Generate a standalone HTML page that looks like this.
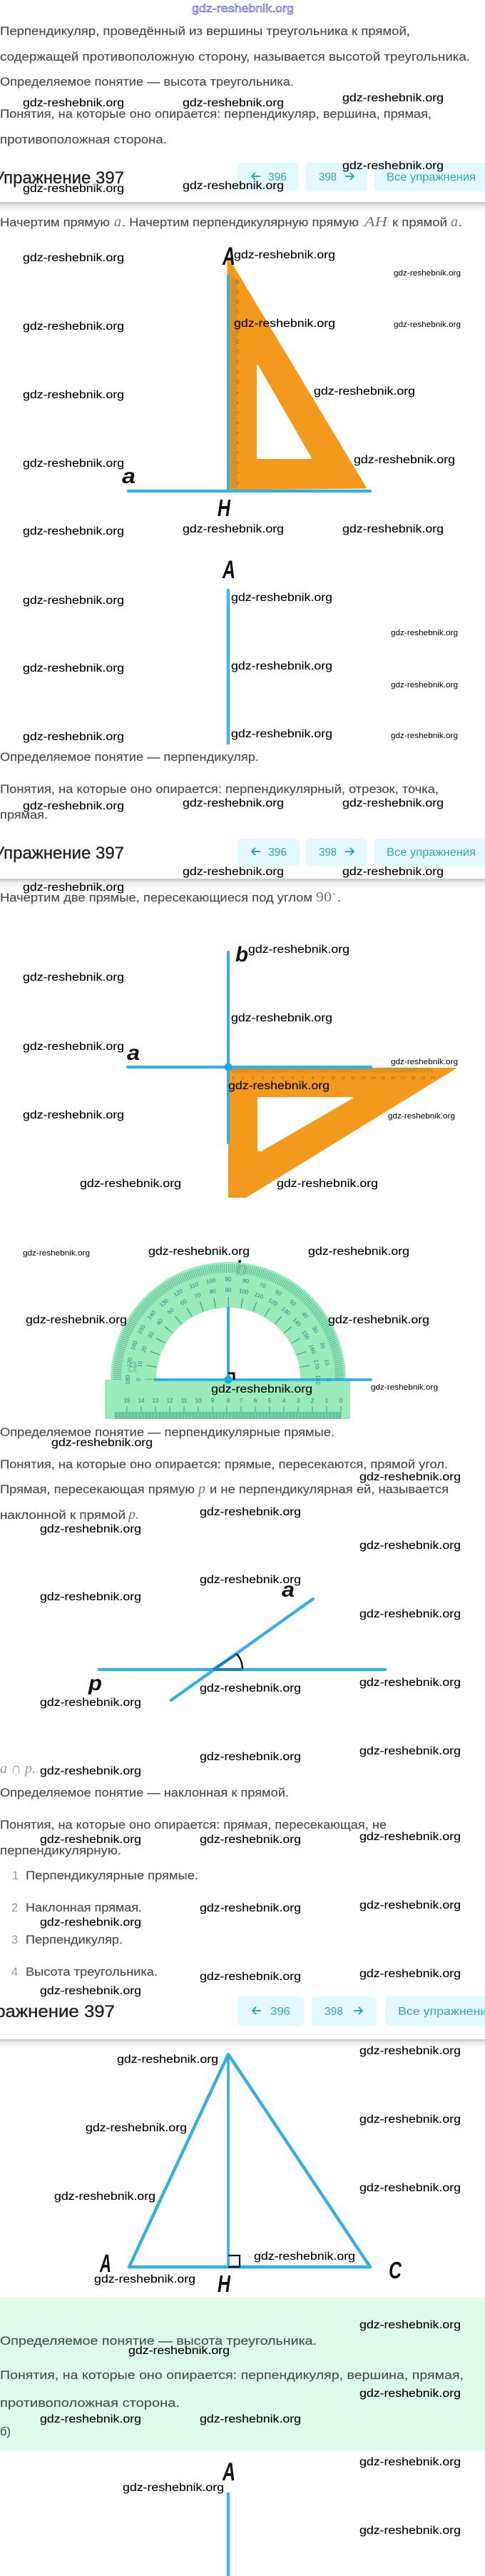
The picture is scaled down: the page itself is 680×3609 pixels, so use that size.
<!DOCTYPE html>
<html lang="ru"><head><meta charset="utf-8"><title>Упражнение 397</title>
<style>
html,body{margin:0;padding:0;background:#fff}
body{width:680px;height:3609px;overflow:hidden}
svg{display:block}
text{font-family:"Liberation Sans","DejaVu Sans",sans-serif}
.t{font-size:16.5px;fill:#4c4c4c;stroke:#4c4c4c;stroke-width:.15px}
.w{font-size:15.5px;fill:#000;stroke:#000;stroke-width:.1px}
.s{font-size:11px;fill:#000}
.h{font-size:24px;fill:#222;stroke:#222;stroke-width:.35px}
.b{font-size:16px;fill:#3c9fc0}
.m{font-family:"Liberation Serif",serif;font-style:italic;font-size:20px;fill:#777}
.l{font-style:italic;font-weight:bold;fill:#111}
.o{font-size:5.5px;fill:#8a6420}
.p{font-size:8px;fill:#2a7f88;text-anchor:middle}
.u{font-size:8px;fill:#2f7f80;text-anchor:middle}
.g{fill:#45544c;stroke:#45544c}
</style></head><body>
<svg width="680" height="3609" viewBox="0 0 680 3609" xmlns="http://www.w3.org/2000/svg">
<defs><linearGradient id="sh" x1="0" y1="0" x2="0" y2="1"><stop offset="0" stop-color="#c4c4c4"/><stop offset=".4" stop-color="#ececec"/><stop offset="1" stop-color="#fff"/></linearGradient></defs>

<!-- green block -->
<rect x="0" y="3219" width="680" height="214" fill="#dcfbea"/>

<!-- shadows -->
<rect x="0" y="283" width="680" height="14" fill="url(#sh)"/>
<rect x="0" y="1231" width="680" height="14" fill="url(#sh)"/>
<rect x="0" y="2857" width="680" height="12" fill="url(#sh)"/>

<!-- figure 1 -->
<polygon points="320,363 320,685 512,683" fill="#f39a1e" stroke="#f39a1e" stroke-width="3" stroke-linejoin="round"/>
<polygon points="361,512 361,642 436,642" fill="#fff" stroke="#fff" stroke-width="2" stroke-linejoin="round"/>
<line x1="328" y1="390" x2="328" y2="684" stroke="#8f7430" stroke-width="9" stroke-dasharray=".7 1.3" opacity=".65"/>
<g class="o">
<text class="o" transform="translate(335,678) rotate(-90)">0</text><text class="o" transform="translate(335,664) rotate(-90)">1</text><text class="o" transform="translate(335,650) rotate(-90)">2</text><text class="o" transform="translate(335,636) rotate(-90)">3</text><text class="o" transform="translate(335,622) rotate(-90)">4</text><text class="o" transform="translate(335,608) rotate(-90)">5</text><text class="o" transform="translate(335,594) rotate(-90)">6</text><text class="o" transform="translate(335,580) rotate(-90)">7</text><text class="o" transform="translate(335,566) rotate(-90)">8</text><text class="o" transform="translate(335,552) rotate(-90)">9</text><text class="o" transform="translate(335,538) rotate(-90)">10</text><text class="o" transform="translate(335,524) rotate(-90)">11</text><text class="o" transform="translate(335,510) rotate(-90)">12</text><text class="o" transform="translate(335,496) rotate(-90)">13</text><text class="o" transform="translate(335,482) rotate(-90)">14</text><text class="o" transform="translate(335,468) rotate(-90)">15</text><text class="o" transform="translate(335,454) rotate(-90)">16</text><text class="o" transform="translate(335,440) rotate(-90)">17</text><text class="o" transform="translate(335,426) rotate(-90)">18</text><text class="o" transform="translate(335,412) rotate(-90)">19</text><text class="o" transform="translate(335,398) rotate(-90)">20</text>
</g>
<line x1="320" y1="387" x2="320" y2="686" stroke="#35aee6" stroke-width="4" stroke-linecap="round"/>
<line x1="180" y1="688" x2="519" y2="688" stroke="#35aee6" stroke-width="4.2" stroke-linecap="round"/>
<text class="l" x="312" y="371" font-size="35" textLength="18" lengthAdjust="spacingAndGlyphs">A</text>
<text class="l" x="171" y="677" font-size="30" textLength="19" lengthAdjust="spacingAndGlyphs">a</text>
<text class="l" x="305" y="723" font-size="33" textLength="18" lengthAdjust="spacingAndGlyphs">H</text>

<!-- figure 2 -->
<text class="l" x="312" y="810" font-size="35" textLength="18" lengthAdjust="spacingAndGlyphs">A</text>
<line x1="320" y1="827" x2="320" y2="1041" stroke="#45b3e8" stroke-width="4.6" stroke-linecap="round"/>

<!-- figure 3 -->
<polygon points="320,1496 641,1496 345,1678 320,1678" fill="#f39a1e"/>
<polygon points="362,1538 494,1538 366,1612 362,1612" fill="#fff" stroke="#fff" stroke-width="2" stroke-linejoin="round"/>
<line x1="325" y1="1499" x2="607" y2="1499" stroke="#8f7430" stroke-width="7" stroke-dasharray=".7 1.3" opacity=".7"/>
<g>
<text class="o" x="325" y="1512">0</text><text class="o" x="339" y="1512">1</text><text class="o" x="353" y="1512">2</text><text class="o" x="367" y="1512">3</text><text class="o" x="381" y="1512">4</text><text class="o" x="395" y="1512">5</text><text class="o" x="409" y="1512">6</text><text class="o" x="423" y="1512">7</text><text class="o" x="437" y="1512">8</text><text class="o" x="451" y="1512">9</text><text class="o" x="464" y="1512">10</text><text class="o" x="478" y="1512">11</text><text class="o" x="492" y="1512">12</text><text class="o" x="506" y="1512">13</text><text class="o" x="520" y="1512">14</text><text class="o" x="534" y="1512">15</text><text class="o" x="548" y="1512">16</text><text class="o" x="562" y="1512">17</text><text class="o" x="576" y="1512">18</text><text class="o" x="590" y="1512">19</text><text class="o" x="604" y="1512">20</text>
</g>
<line x1="320" y1="1334" x2="320" y2="1601" stroke="#35aee6" stroke-width="4" stroke-linecap="round"/>
<line x1="179" y1="1495" x2="520" y2="1495" stroke="#35aee6" stroke-width="4.2" stroke-linecap="round"/>
<circle cx="320" cy="1495" r="5.5" fill="#1ca6e8"/>
<text class="l" x="330" y="1347" font-size="30" textLength="18" lengthAdjust="spacingAndGlyphs">b</text>
<text class="l" x="178" y="1485" font-size="30" textLength="18" lengthAdjust="spacingAndGlyphs">a</text>

<!-- figure 4 protractor -->
<text class="l" x="330" y="1787" font-size="30" textLength="17" lengthAdjust="spacingAndGlyphs">b</text>
<text class="l" x="179" y="1923" font-size="30" textLength="14" lengthAdjust="spacingAndGlyphs">a</text>
<g opacity=".9">
<path d="M155,1933 A165,165 0 0 1 485,1933 L421,1933 A101,101 0 0 0 219,1933 Z" fill="#8fe9b5"/>
<rect x="147" y="1933" width="344" height="55" rx="2" fill="#8fe9b5"/>
</g>
<line x1="217" y1="1933" x2="520" y2="1933" stroke="#35aee6" stroke-width="3.8" stroke-linecap="round"/>
<line x1="320" y1="1831" x2="320" y2="1933" stroke="#35aee6" stroke-width="4"/>
<path d="M320,1924 H328 V1933" fill="none" stroke="#000" stroke-width="3"/>
<circle cx="320" cy="1933" r="5.5" fill="#1ca6e8"/>
<path d="M164,1933 A156,156 0 0 1 476,1933" fill="none" stroke="#2f8f83" stroke-width="12" stroke-dasharray=".8 1.92" opacity=".75"/>
<path d="M211,1933 A109,109 0 0 1 429,1933" fill="none" stroke="#2f8f83" stroke-width="14" stroke-dasharray="1 18.02" stroke-dashoffset=".5"/>
<path d="M161,1983 H479" fill="none" stroke="#2f8f83" stroke-width="10" stroke-dasharray=".8 1.2"/>
<path d="M178,1978 V1970 M198,1978 V1970 M218,1978 V1970 M238,1978 V1970 M258,1978 V1970 M278,1978 V1970 M298,1978 V1970 M318,1978 V1970 M338,1978 V1970 M358,1978 V1970 M378,1978 V1970 M398,1978 V1970 M418,1978 V1970 M438,1978 V1970 M458,1978 V1970 M478,1978 V1970" stroke="#2f8f83" stroke-width=".8" fill="none"/>
<g transform="translate(320,1933)">
<text class="p" transform="rotate(90) translate(0,-138)">0</text><text class="p" transform="rotate(80) translate(0,-138)">10</text><text class="p" transform="rotate(70) translate(0,-138)">20</text><text class="p" transform="rotate(60) translate(0,-138)">30</text><text class="p" transform="rotate(50) translate(0,-138)">40</text><text class="p" transform="rotate(40) translate(0,-138)">50</text><text class="p" transform="rotate(30) translate(0,-138)">60</text><text class="p" transform="rotate(20) translate(0,-138)">70</text><text class="p" transform="rotate(10) translate(0,-138)">80</text><text class="p" transform="translate(0,-138)">90</text><text class="p" transform="rotate(-10) translate(0,-138)">100</text><text class="p" transform="rotate(-20) translate(0,-138)">110</text><text class="p" transform="rotate(-30) translate(0,-138)">120</text><text class="p" transform="rotate(-40) translate(0,-138)">130</text><text class="p" transform="rotate(-50) translate(0,-138)">140</text><text class="p" transform="rotate(-60) translate(0,-138)">150</text><text class="p" transform="rotate(-70) translate(0,-138)">160</text><text class="p" transform="rotate(-80) translate(0,-138)">170</text><text class="p" transform="rotate(-90) translate(0,-138)">180</text>
<text class="p" transform="rotate(-90) translate(0,-123)">0</text><text class="p" transform="rotate(-80) translate(0,-123)">10</text><text class="p" transform="rotate(-70) translate(0,-123)">20</text><text class="p" transform="rotate(-60) translate(0,-123)">30</text><text class="p" transform="rotate(-50) translate(0,-123)">40</text><text class="p" transform="rotate(-40) translate(0,-123)">50</text><text class="p" transform="rotate(-30) translate(0,-123)">60</text><text class="p" transform="rotate(-20) translate(0,-123)">70</text><text class="p" transform="rotate(-10) translate(0,-123)">80</text><text class="p" transform="translate(0,-123)">90</text><text class="p" transform="rotate(10) translate(0,-123)">100</text><text class="p" transform="rotate(20) translate(0,-123)">110</text><text class="p" transform="rotate(30) translate(0,-123)">120</text><text class="p" transform="rotate(40) translate(0,-123)">130</text><text class="p" transform="rotate(50) translate(0,-123)">140</text><text class="p" transform="rotate(60) translate(0,-123)">150</text><text class="p" transform="rotate(70) translate(0,-123)">160</text><text class="p" transform="rotate(80) translate(0,-123)">170</text><text class="p" transform="rotate(90) translate(0,-123)">180</text>
</g>
<text class="u" x="178" y="1965">15</text><text class="u" x="198" y="1965">14</text><text class="u" x="218" y="1965">13</text><text class="u" x="238" y="1965">12</text><text class="u" x="258" y="1965">11</text><text class="u" x="278" y="1965">10</text><text class="u" x="298" y="1965">9</text><text class="u" x="320" y="1965">8</text><text class="u" x="338" y="1965">7</text><text class="u" x="358" y="1965">6</text><text class="u" x="378" y="1965">5</text><text class="u" x="398" y="1965">4</text><text class="u" x="418" y="1965">3</text><text class="u" x="438" y="1965">2</text><text class="u" x="458" y="1965">1</text><text class="u" x="478" y="1965">0</text>

<!-- figure 5 -->
<line x1="139" y1="2339" x2="540" y2="2339" stroke="#35aee6" stroke-width="4.2" stroke-linecap="round"/>
<line x1="240" y1="2382" x2="439" y2="2240" stroke="#35aee6" stroke-width="4.2" stroke-linecap="round"/>
<path d="M299,2339 H340 M299,2339 L332,2317" stroke="#1383b8" stroke-width="4" fill="none"/>
<path d="M332,2317 Q340,2327 340,2338" stroke="#111" stroke-width="2.5" fill="none"/>
<text class="l" x="395" y="2237" font-size="30" textLength="18" lengthAdjust="spacingAndGlyphs">a</text>
<text class="l" x="124" y="2368" font-size="30" textLength="19" lengthAdjust="spacingAndGlyphs">p</text>

<!-- figure 6 -->
<polygon points="320,2878 181,3176 519,3176" fill="none" stroke="#35aee6" stroke-width="4.4" stroke-linejoin="round"/>
<line x1="320" y1="2877" x2="320" y2="3176" stroke="#35aee6" stroke-width="3.6"/>
<path d="M320,3160 H336 V3176 H320" fill="none" stroke="#111" stroke-width="2.2"/>
<text class="l" x="140" y="3183" font-size="35" textLength="16" lengthAdjust="spacingAndGlyphs">A</text>
<text class="l" x="305" y="3211" font-size="33" textLength="18" lengthAdjust="spacingAndGlyphs">H</text>
<text class="l" x="545" y="3192" font-size="33" textLength="18" lengthAdjust="spacingAndGlyphs">C</text>

<!-- figure 7 -->
<text class="l" x="312" y="3475" font-size="35" textLength="18" lengthAdjust="spacingAndGlyphs">A</text>
<line x1="320" y1="3492" x2="320" y2="3609" stroke="#45b3e8" stroke-width="4.4"/>

<!-- buttons -->
<rect x="333" y="228" width="85" height="40" rx="5" fill="#e4f9fd"/><rect x="428" y="228" width="87" height="40" rx="5" fill="#e4f9fd"/><rect x="525" y="228" width="165" height="40" rx="5" fill="#e4f9fd"/>
<path d="M365,247 H353 M358,242 L353,247 L358,252" fill="none" stroke="#3c9fc0" stroke-width="2"/><text class="b" x="376" y="253" textLength="26" lengthAdjust="spacingAndGlyphs">396</text>
<text class="b" x="447" y="253" textLength="25" lengthAdjust="spacingAndGlyphs">398</text><path d="M484,247 H496 M491,242 L496,247 L491,252" fill="none" stroke="#3c9fc0" stroke-width="2"/>
<text class="b" x="542" y="253" textLength="125" lengthAdjust="spacingAndGlyphs">Все упражнения</text>

<rect x="333" y="1175" width="87" height="38" rx="5" fill="#e4f9fd"/><rect x="429" y="1175" width="86" height="38" rx="5" fill="#e4f9fd"/><rect x="525" y="1175" width="165" height="38" rx="5" fill="#e4f9fd"/>
<path d="M365,1193 H353 M358,1188 L353,1193 L358,1198" fill="none" stroke="#3c9fc0" stroke-width="2"/><text class="b" x="376" y="1199" textLength="26" lengthAdjust="spacingAndGlyphs">396</text>
<text class="b" x="447" y="1199" textLength="25" lengthAdjust="spacingAndGlyphs">398</text><path d="M484,1193 H496 M491,1188 L496,1193 L491,1198" fill="none" stroke="#3c9fc0" stroke-width="2"/>
<text class="b" x="542" y="1199" textLength="125" lengthAdjust="spacingAndGlyphs">Все упражнения</text>

<rect x="333" y="2797" width="93" height="41" rx="5" fill="#e4f9fd"/><rect x="437" y="2797" width="91" height="41" rx="5" fill="#e4f9fd"/><rect x="540" y="2797" width="150" height="41" rx="5" fill="#e4f9fd"/>
<path d="M366,2817 H354 M359,2812 L354,2817 L359,2822" fill="none" stroke="#3c9fc0" stroke-width="2"/><text class="b" x="379" y="2823" font-size="17" textLength="28" lengthAdjust="spacingAndGlyphs">396</text>
<text class="b" x="455" y="2823" textLength="26" lengthAdjust="spacingAndGlyphs">398</text><path d="M496,2817 H508 M503,2812 L508,2817 L503,2822" fill="none" stroke="#3c9fc0" stroke-width="2"/>
<text class="b" x="558" y="2823" textLength="135" lengthAdjust="spacingAndGlyphs">Все упражнения</text>

<!-- headers -->
<text class="h" x="-9" y="257" textLength="183" lengthAdjust="spacingAndGlyphs">Упражнение 397</text>
<text class="h" x="-9" y="1203" textLength="183" lengthAdjust="spacingAndGlyphs">Упражнение 397</text>
<text class="h" x="-36" y="2826" font-size="25.5" textLength="197" lengthAdjust="spacingAndGlyphs">Упражнение 397</text>

<!-- body text -->
<text class="t" x="0" y="49" textLength="575" lengthAdjust="spacingAndGlyphs">Перпендикуляр, проведённый из вершины треугольника к прямой,</text>
<text class="t" x="0" y="85" textLength="659" lengthAdjust="spacingAndGlyphs">содержащей противоположную сторону, называется высотой треугольника.</text>
<text class="t" x="0" y="120" textLength="412" lengthAdjust="spacingAndGlyphs">Определяемое понятие — высота треугольника.</text>
<text class="t" x="0" y="165" textLength="605" lengthAdjust="spacingAndGlyphs">Понятия, на которые оно опирается: перпендикуляр, вершина, прямая,</text>
<text class="t" x="0" y="201" textLength="234" lengthAdjust="spacingAndGlyphs">противоположная сторона.</text>

<text class="t" x="0" y="317" textLength="154" lengthAdjust="spacingAndGlyphs">Начертим прямую</text><text class="m" x="160" y="317">a</text><text class="t" x="171" y="317" textLength="332" lengthAdjust="spacingAndGlyphs">. Начертим перпендикулярную прямую</text><text class="m" x="511" y="317" textLength="32" lengthAdjust="spacingAndGlyphs">AH</text><text class="t" x="550" y="317" textLength="77" lengthAdjust="spacingAndGlyphs">к прямой</text><text class="m" x="632" y="317">a</text><text class="t" x="643" y="317">.</text>

<text class="t" x="0" y="1066" textLength="363" lengthAdjust="spacingAndGlyphs">Определяемое понятие — перпендикуляр.</text>
<text class="t" x="0" y="1111" textLength="615" lengthAdjust="spacingAndGlyphs">Понятия, на которые оно опирается: перпендикулярный, отрезок, точка,</text>
<text class="t" x="0" y="1147" textLength="67" lengthAdjust="spacingAndGlyphs">прямая.</text>

<text class="t" x="0" y="1263" textLength="438" lengthAdjust="spacingAndGlyphs">Начертим две прямые, пересекающиеся под углом</text><text class="m" style="font-style:normal" x="443" y="1263" textLength="22" lengthAdjust="spacingAndGlyphs">90</text><text class="m" style="font-style:normal;font-size:11px" x="466" y="1258">°</text><text class="t" x="473" y="1263">.</text>

<text class="t" x="0" y="2012" textLength="469" lengthAdjust="spacingAndGlyphs">Определяемое понятие — перпендикулярные прямые.</text>
<text class="t" x="0" y="2057" textLength="628" lengthAdjust="spacingAndGlyphs">Понятия, на которые оно опирается: прямые, пересекаются, прямой угол.</text>
<text class="t" x="0" y="2092" textLength="273" lengthAdjust="spacingAndGlyphs">Прямая, пересекающая прямую</text><text class="m" x="278" y="2092">p</text><text class="t" x="294" y="2092" textLength="335" lengthAdjust="spacingAndGlyphs">и не перпендикулярная ей, называется</text>
<text class="t" x="0" y="2128" textLength="176" lengthAdjust="spacingAndGlyphs">наклонной к прямой</text><text class="m" x="180" y="2128">p.</text>
<text class="m" x="0" y="2484" textLength="50" lengthAdjust="spacingAndGlyphs" style="fill:#999">a ∩ p.</text>
<text class="t" x="0" y="2517" textLength="405" lengthAdjust="spacingAndGlyphs">Определяемое понятие — наклонная к прямой.</text>
<text class="t" x="0" y="2562" textLength="542" lengthAdjust="spacingAndGlyphs">Понятия, на которые оно опирается: прямая, пересекающая, не</text>
<text class="t" x="0" y="2598" textLength="170" lengthAdjust="spacingAndGlyphs">перпендикулярную.</text>

<text class="t" style="fill:#999;stroke:none" x="17" y="2633">1</text><text class="t" x="36" y="2633" textLength="242" lengthAdjust="spacingAndGlyphs">Перпендикулярные прямые.</text>
<text class="t" style="fill:#999;stroke:none" x="16" y="2678">2</text><text class="t" x="36" y="2678" textLength="163" lengthAdjust="spacingAndGlyphs">Наклонная прямая.</text>
<text class="t" style="fill:#999;stroke:none" x="16" y="2723">3</text><text class="t" x="36" y="2723" textLength="136" lengthAdjust="spacingAndGlyphs">Перпендикуляр.</text>
<text class="t" style="fill:#999;stroke:none" x="16" y="2768">4</text><text class="t" x="36" y="2768" textLength="185" lengthAdjust="spacingAndGlyphs">Высота треугольника.</text>

<text class="t g" x="0" y="3285" textLength="444" lengthAdjust="spacingAndGlyphs">Определяемое понятие — высота треугольника.</text>
<text class="t g" x="0" y="3333" textLength="650" lengthAdjust="spacingAndGlyphs">Понятия, на которые оно опирается: перпендикуляр, вершина, прямая,</text>
<text class="t g" x="0" y="3372" textLength="252" lengthAdjust="spacingAndGlyphs">противоположная сторона.</text>
<text class="t g" x="0" y="3412" textLength="15" lengthAdjust="spacingAndGlyphs">б)</text>

<!-- top outlined watermark -->
<text x="269" y="17" font-size="16" fill="#fff" stroke="#2828d0" stroke-width=".55" textLength="143" lengthAdjust="spacingAndGlyphs">gdz-reshebnik.org</text>

<!-- watermarks -->
<g>
<text class="w" x="32" y="149" textLength="142" lengthAdjust="spacingAndGlyphs">gdz-reshebnik.org</text>
<text class="w" x="256" y="149" textLength="142" lengthAdjust="spacingAndGlyphs">gdz-reshebnik.org</text>
<text class="w" x="480" y="142" textLength="142" lengthAdjust="spacingAndGlyphs">gdz-reshebnik.org</text>
<text class="w" x="480" y="237" textLength="142" lengthAdjust="spacingAndGlyphs">gdz-reshebnik.org</text>
<text class="w" x="32" y="269" textLength="142" lengthAdjust="spacingAndGlyphs">gdz-reshebnik.org</text>
<text class="w" x="256" y="265" textLength="142" lengthAdjust="spacingAndGlyphs">gdz-reshebnik.org</text>
<text class="w" x="32" y="366" textLength="142" lengthAdjust="spacingAndGlyphs">gdz-reshebnik.org</text>
<text class="w" x="328" y="362" textLength="142" lengthAdjust="spacingAndGlyphs">gdz-reshebnik.org</text>
<text class="s" x="552" y="386" textLength="94" lengthAdjust="spacingAndGlyphs">gdz-reshebnik.org</text>
<text class="w" x="32" y="462" textLength="142" lengthAdjust="spacingAndGlyphs">gdz-reshebnik.org</text>
<text class="w" x="328" y="458" textLength="142" lengthAdjust="spacingAndGlyphs">gdz-reshebnik.org</text>
<text class="s" x="552" y="458" textLength="94" lengthAdjust="spacingAndGlyphs">gdz-reshebnik.org</text>
<text class="w" x="440" y="553" textLength="142" lengthAdjust="spacingAndGlyphs">gdz-reshebnik.org</text>
<text class="w" x="32" y="558" textLength="142" lengthAdjust="spacingAndGlyphs">gdz-reshebnik.org</text>
<text class="w" x="496" y="649" textLength="142" lengthAdjust="spacingAndGlyphs">gdz-reshebnik.org</text>
<text class="w" x="32" y="654" textLength="142" lengthAdjust="spacingAndGlyphs">gdz-reshebnik.org</text>
<text class="w" x="32" y="749" textLength="142" lengthAdjust="spacingAndGlyphs">gdz-reshebnik.org</text>
<text class="w" x="256" y="746" textLength="142" lengthAdjust="spacingAndGlyphs">gdz-reshebnik.org</text>
<text class="w" x="480" y="746" textLength="142" lengthAdjust="spacingAndGlyphs">gdz-reshebnik.org</text>
<text class="w" x="32" y="846" textLength="142" lengthAdjust="spacingAndGlyphs">gdz-reshebnik.org</text>
<text class="w" x="324" y="842" textLength="142" lengthAdjust="spacingAndGlyphs">gdz-reshebnik.org</text>
<text class="s" x="548" y="890" textLength="94" lengthAdjust="spacingAndGlyphs">gdz-reshebnik.org</text>
<text class="w" x="32" y="941" textLength="142" lengthAdjust="spacingAndGlyphs">gdz-reshebnik.org</text>
<text class="w" x="324" y="938" textLength="142" lengthAdjust="spacingAndGlyphs">gdz-reshebnik.org</text>
<text class="s" x="548" y="963" textLength="94" lengthAdjust="spacingAndGlyphs">gdz-reshebnik.org</text>
<text class="w" x="32" y="1037" textLength="142" lengthAdjust="spacingAndGlyphs">gdz-reshebnik.org</text>
<text class="w" x="324" y="1033" textLength="142" lengthAdjust="spacingAndGlyphs">gdz-reshebnik.org</text>
<text class="s" x="548" y="1034" textLength="94" lengthAdjust="spacingAndGlyphs">gdz-reshebnik.org</text>
<text class="w" x="32" y="1134" textLength="142" lengthAdjust="spacingAndGlyphs">gdz-reshebnik.org</text>
<text class="w" x="256" y="1130" textLength="142" lengthAdjust="spacingAndGlyphs">gdz-reshebnik.org</text>
<text class="w" x="480" y="1130" textLength="142" lengthAdjust="spacingAndGlyphs">gdz-reshebnik.org</text>
<text class="w" x="256" y="1226" textLength="142" lengthAdjust="spacingAndGlyphs">gdz-reshebnik.org</text>
<text class="w" x="480" y="1226" textLength="142" lengthAdjust="spacingAndGlyphs">gdz-reshebnik.org</text>
<text class="w" x="32" y="1248" textLength="142" lengthAdjust="spacingAndGlyphs">gdz-reshebnik.org</text>
<text class="w" x="348" y="1335" textLength="142" lengthAdjust="spacingAndGlyphs">gdz-reshebnik.org</text>
<text class="w" x="32" y="1374" textLength="142" lengthAdjust="spacingAndGlyphs">gdz-reshebnik.org</text>
<text class="w" x="324" y="1431" textLength="142" lengthAdjust="spacingAndGlyphs">gdz-reshebnik.org</text>
<text class="w" x="32" y="1471" textLength="142" lengthAdjust="spacingAndGlyphs">gdz-reshebnik.org</text>
<text class="s" x="548" y="1491" textLength="94" lengthAdjust="spacingAndGlyphs">gdz-reshebnik.org</text>
<text class="w" x="320" y="1526" textLength="142" lengthAdjust="spacingAndGlyphs">gdz-reshebnik.org</text>
<text class="s" x="544" y="1567" textLength="94" lengthAdjust="spacingAndGlyphs">gdz-reshebnik.org</text>
<text class="w" x="32" y="1567" textLength="142" lengthAdjust="spacingAndGlyphs">gdz-reshebnik.org</text>
<text class="w" x="112" y="1663" textLength="142" lengthAdjust="spacingAndGlyphs">gdz-reshebnik.org</text>
<text class="w" x="388" y="1663" textLength="142" lengthAdjust="spacingAndGlyphs">gdz-reshebnik.org</text>
<text class="s" x="32" y="1759" textLength="94" lengthAdjust="spacingAndGlyphs">gdz-reshebnik.org</text>
<text class="w" x="208" y="1758" textLength="142" lengthAdjust="spacingAndGlyphs">gdz-reshebnik.org</text>
<text class="w" x="432" y="1758" textLength="142" lengthAdjust="spacingAndGlyphs">gdz-reshebnik.org</text>
<text class="w" x="36" y="1854" textLength="142" lengthAdjust="spacingAndGlyphs">gdz-reshebnik.org</text>
<text class="w" x="460" y="1854" textLength="142" lengthAdjust="spacingAndGlyphs">gdz-reshebnik.org</text>
<text class="w" x="296" y="1951" textLength="142" lengthAdjust="spacingAndGlyphs">gdz-reshebnik.org</text>
<text class="s" x="520" y="1947" textLength="94" lengthAdjust="spacingAndGlyphs">gdz-reshebnik.org</text>
<text class="w" x="72" y="2026" textLength="142" lengthAdjust="spacingAndGlyphs">gdz-reshebnik.org</text>
<text class="w" x="504" y="2074" textLength="142" lengthAdjust="spacingAndGlyphs">gdz-reshebnik.org</text>
<text class="w" x="280" y="2123" textLength="142" lengthAdjust="spacingAndGlyphs">gdz-reshebnik.org</text>
<text class="w" x="56" y="2147" textLength="142" lengthAdjust="spacingAndGlyphs">gdz-reshebnik.org</text>
<text class="w" x="504" y="2170" textLength="142" lengthAdjust="spacingAndGlyphs">gdz-reshebnik.org</text>
<text class="w" x="280" y="2218" textLength="142" lengthAdjust="spacingAndGlyphs">gdz-reshebnik.org</text>
<text class="w" x="56" y="2242" textLength="142" lengthAdjust="spacingAndGlyphs">gdz-reshebnik.org</text>
<text class="w" x="504" y="2266" textLength="142" lengthAdjust="spacingAndGlyphs">gdz-reshebnik.org</text>
<text class="w" x="280" y="2370" textLength="142" lengthAdjust="spacingAndGlyphs">gdz-reshebnik.org</text>
<text class="w" x="504" y="2362" textLength="142" lengthAdjust="spacingAndGlyphs">gdz-reshebnik.org</text>
<text class="w" x="56" y="2390" textLength="142" lengthAdjust="spacingAndGlyphs">gdz-reshebnik.org</text>
<text class="w" x="504" y="2458" textLength="142" lengthAdjust="spacingAndGlyphs">gdz-reshebnik.org</text>
<text class="w" x="280" y="2466" textLength="142" lengthAdjust="spacingAndGlyphs">gdz-reshebnik.org</text>
<text class="w" x="56" y="2486" textLength="142" lengthAdjust="spacingAndGlyphs">gdz-reshebnik.org</text>
<text class="w" x="504" y="2578" textLength="142" lengthAdjust="spacingAndGlyphs">gdz-reshebnik.org</text>
<text class="w" x="56" y="2582" textLength="142" lengthAdjust="spacingAndGlyphs">gdz-reshebnik.org</text>
<text class="w" x="280" y="2582" textLength="142" lengthAdjust="spacingAndGlyphs">gdz-reshebnik.org</text>
<text class="w" x="504" y="2674" textLength="142" lengthAdjust="spacingAndGlyphs">gdz-reshebnik.org</text>
<text class="w" x="280" y="2678" textLength="142" lengthAdjust="spacingAndGlyphs">gdz-reshebnik.org</text>
<text class="w" x="56" y="2698" textLength="142" lengthAdjust="spacingAndGlyphs">gdz-reshebnik.org</text>
<text class="w" x="504" y="2770" textLength="142" lengthAdjust="spacingAndGlyphs">gdz-reshebnik.org</text>
<text class="w" x="280" y="2774" textLength="142" lengthAdjust="spacingAndGlyphs">gdz-reshebnik.org</text>
<text class="w" x="56" y="2794" textLength="142" lengthAdjust="spacingAndGlyphs">gdz-reshebnik.org</text>
<text class="w" x="504" y="2878" textLength="142" lengthAdjust="spacingAndGlyphs">gdz-reshebnik.org</text>
<text class="w" x="164" y="2890" textLength="142" lengthAdjust="spacingAndGlyphs">gdz-reshebnik.org</text>
<text class="w" x="504" y="2974" textLength="142" lengthAdjust="spacingAndGlyphs">gdz-reshebnik.org</text>
<text class="w" x="120" y="2986" textLength="142" lengthAdjust="spacingAndGlyphs">gdz-reshebnik.org</text>
<text class="w" x="504" y="3070" textLength="142" lengthAdjust="spacingAndGlyphs">gdz-reshebnik.org</text>
<text class="w" x="76" y="3082" textLength="142" lengthAdjust="spacingAndGlyphs">gdz-reshebnik.org</text>
<text class="w" x="356" y="3166" textLength="142" lengthAdjust="spacingAndGlyphs">gdz-reshebnik.org</text>
<text class="w" x="132" y="3198" textLength="142" lengthAdjust="spacingAndGlyphs">gdz-reshebnik.org</text>
<text class="w" x="504" y="3262" textLength="142" lengthAdjust="spacingAndGlyphs">gdz-reshebnik.org</text>
<text class="w" x="180" y="3298" textLength="142" lengthAdjust="spacingAndGlyphs">gdz-reshebnik.org</text>
<text class="w" x="504" y="3358" textLength="142" lengthAdjust="spacingAndGlyphs">gdz-reshebnik.org</text>
<text class="w" x="56" y="3394" textLength="142" lengthAdjust="spacingAndGlyphs">gdz-reshebnik.org</text>
<text class="w" x="280" y="3394" textLength="142" lengthAdjust="spacingAndGlyphs">gdz-reshebnik.org</text>
<text class="w" x="504" y="3454" textLength="142" lengthAdjust="spacingAndGlyphs">gdz-reshebnik.org</text>
<text class="w" x="172" y="3490" textLength="142" lengthAdjust="spacingAndGlyphs">gdz-reshebnik.org</text>
<text class="w" x="504" y="3550" textLength="142" lengthAdjust="spacingAndGlyphs">gdz-reshebnik.org</text>
</g>
</svg>
</body></html>
